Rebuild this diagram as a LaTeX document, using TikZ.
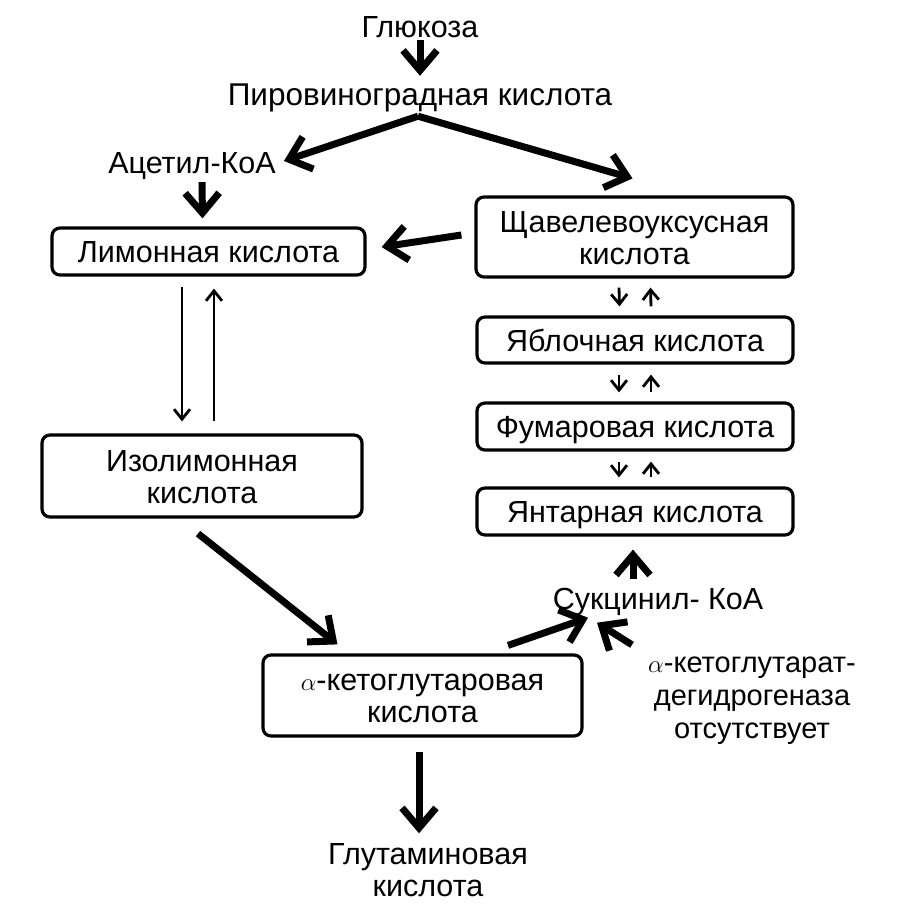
\documentclass[tikz,border=0pt]{standalone}
\usepackage{fontspec}
\setmainfont{Liberation Sans}
\usetikzlibrary{arrows.meta,calc}
\begin{document}
\begin{tikzpicture}[x=1pt,y=-1pt,
  every node/.style={font=\fontsize{30.5}{32}\selectfont, inner sep=0pt, text height=22pt, text depth=0pt, align=center},
  two/.style={text height=54pt},
  three/.style={font=\fontsize{29}{33}\selectfont, text height=87pt},
  box/.style={draw, line width=3.2pt, rounded corners=8pt},
  big/.style={line width=7pt, -{Straight Barb[length=20pt,width=34pt]}},
  thin/.style={line width=2.8pt, -{Straight Barb[length=10pt,width=16pt]}}]
\useasboundingbox (0,0) rectangle (900,912);

% text nodes
\node (gluc) at (420,27) {Глюкоза};
\node[font=\fontsize{31.5}{32}\selectfont] (pyr) at (420,95) {Пировиноградная кислота};
\node (acet) at (192,163) {Ацетил-КоА};
\node (succoa) at (658,598) {Сукцинил- КоА};
\node[three] (enz) at (752,695) {$\alpha$-кетоглутарат-\\дегидрогеназа\\отсутствует};
\node[two] (glu) at (428,869) {Глутаминовая\\кислота};

% boxes
\node[box, minimum width=313pt, minimum height=47pt] (cit) at (208.5,251.5) {Лимонная кислота};
\node[box, two, minimum width=317pt, minimum height=80pt] (oxa) at (634.5,237) {Щавелевоуксусная\\кислота};
\node[box, minimum width=316pt, minimum height=46pt] (mal) at (635,340) {Яблочная кислота};
\node[box, minimum width=316pt, minimum height=47pt] (fum) at (635,426.5) {Фумаровая кислота};
\node[box, minimum width=316pt, minimum height=47pt] (suc) at (635,511.5) {Янтарная кислота};
\node[box, two, minimum width=320pt, minimum height=82pt] (iso) at (202,476) {Изолимонная\\кислота};
\node[box, two, minimum width=319pt, minimum height=81pt] (akg) at (422.5,695.5) {$\alpha$-кетоглутаровая\\кислота};

% connectors
\coordinate (br) at ([xshift=-2pt,yshift=-10pt]pyr.south);
\draw[big] ([yshift=-2pt]gluc.south) -- ([yshift=8pt]pyr.north);
\draw[big] (br) -- ([xshift=8pt,yshift=2pt]acet.east);
\draw[big] (br) -- ([xshift=-2pt,yshift=17pt]oxa.north);
\draw[big] ([xshift=10pt,yshift=-8pt]acet.south) -- ([xshift=-6pt,yshift=8pt]cit.north);
\draw[big] ([xshift=-13pt,yshift=2pt]oxa.west) -- ([xshift=15pt,yshift=4.5pt]cit.east);

\draw[thin] ([xshift=-15.5pt,yshift=-9pt]oxa.south) -- ([xshift=-15.5pt,yshift=9pt]mal.north);
\draw[thin] ([xshift=16pt,yshift=9pt]mal.north) -- ([xshift=16pt,yshift=-9pt]oxa.south);
\draw[thin] ([xshift=-16pt,yshift=-10pt]mal.south) -- ([xshift=-16pt,yshift=9pt]fum.north);
\draw[thin] ([xshift=16pt,yshift=9pt]fum.north) -- ([xshift=16pt,yshift=-10pt]mal.south);
\draw[thin] ([xshift=-16pt,yshift=-10pt]fum.south) -- ([xshift=-16pt,yshift=9pt]suc.north);
\draw[thin] ([xshift=16pt,yshift=9pt]suc.north) -- ([xshift=16pt,yshift=-10pt]fum.south);

\draw[thin] ([xshift=-26.5pt,yshift=-10pt]cit.south) -- ([xshift=-20pt,yshift=12pt]iso.north);
\draw[thin] ([xshift=12pt,yshift=12pt]iso.north) -- ([xshift=5.5pt,yshift=-12pt]cit.south);

\draw[big] ([xshift=-4pt,yshift=-15pt]iso.south) -- ([xshift=-85pt,yshift=9pt]akg.north);
\draw[big] ([xshift=85.5pt,yshift=8pt]akg.north) -- ([xshift=-70pt,yshift=-8.5pt]succoa.south);
\draw[big] ([xshift=-120pt,yshift=6.5pt]enz.north) -- ([xshift=-61pt,yshift=-13.5pt]succoa.south);
\draw[big] ([xshift=-25pt,yshift=7.5pt]succoa.north) -- ([xshift=-2pt,yshift=-13pt]suc.south);
\draw[big] ([xshift=-3.5pt,yshift=-14pt]akg.south) -- ([xshift=-9pt,yshift=8.5pt]glu.north);
\end{tikzpicture}
\end{document}
